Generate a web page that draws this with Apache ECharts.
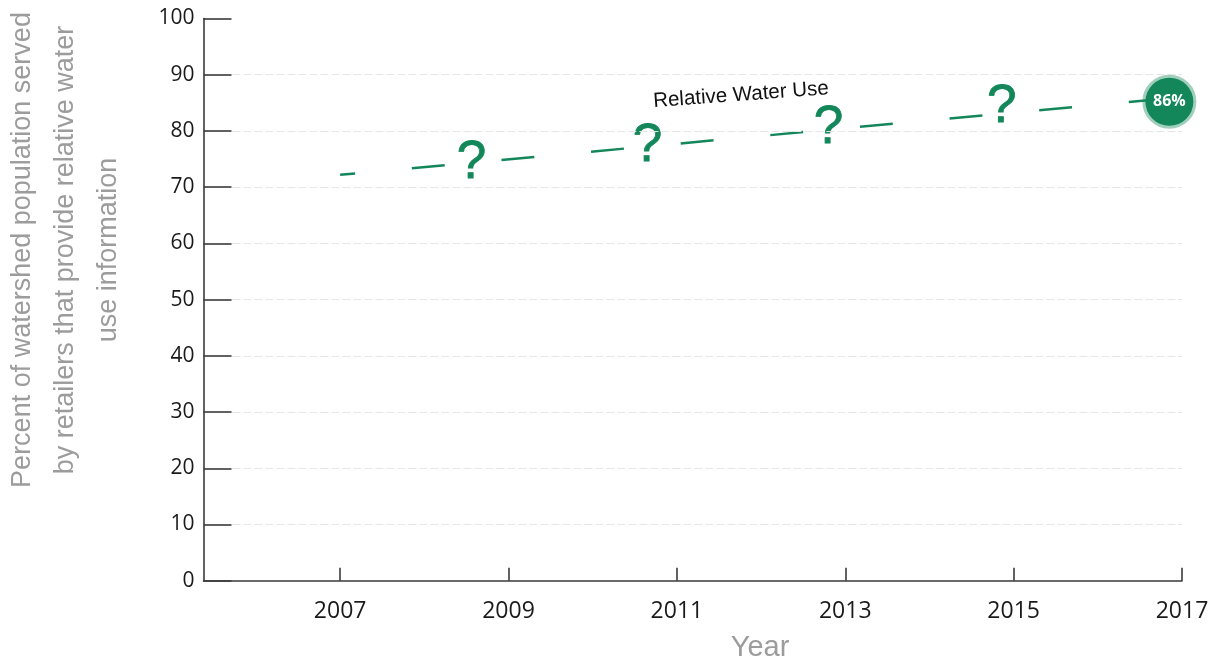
<!DOCTYPE html>
<html>
<head>
<meta charset="utf-8">
<script src="https://cdn.jsdelivr.net/npm/echarts@6/dist/echarts.min.js"></script>
<style>
html,body{margin:0;padding:0;background:#fff;}
#chart{width:1212px;height:664px;}
</style>
</head>
<body>
<div id="chart"></div>
<script>
// ---- data ----
const xTickYears = [2007, 2009, 2011, 2013, 2015, 2017];
const yTicks = [0, 10, 20, 30, 40, 50, 60, 70, 80, 90, 100];
const gridValues = [10, 20, 30, 40, 50, 60, 70, 80, 90];
const trendX = [2007, 2016.85];
const trendY = [72.2, 85.8];
const questionX = [2008.56, 2010.65, 2012.80, 2014.86];
const questionY = [74.2, 77.3, 80.5, 84.2];
const endPointX = [2016.85];
const endPointY = [85.2];
const endPointLabel = ['86%'];
const seriesName = 'Relative Water Use';
const xTitle = 'Year';
const yTitle = 'Percent of watershed population served\nby retailers that provide relative water\nuse information';

const GREEN = '#13875a';
const chart = echarts.init(document.getElementById('chart'), null, {renderer: 'canvas'});

const option = {
  animation: false,
  backgroundColor: '#ffffff',
  grid: {left: 203.5, right: 30, top: 18.5, bottom: 83.3, containLabel: false},
  xAxis: {
    type: 'value',
    min: 2005.377,
    max: 2017,
    splitLine: {show: false},
    axisLine: {show: true, lineStyle: {color: '#3a3a3a', width: 1.6}},
    axisTick: {show: true, inside: true, length: 13, customValues: xTickYears,
      lineStyle: {color: '#3a3a3a', width: 1.6}},
    axisLabel: {customValues: xTickYears, margin: 19, color: '#1a1a1a',
      fontSize: 23, fontFamily: 'Open Sans', formatter: (v) => String(v)}
  },
  yAxis: {
    type: 'value',
    min: 0, max: 100, interval: 10,
    splitLine: {show: false},
    axisLine: {show: true, lineStyle: {color: '#3a3a3a', width: 1.6}},
    axisTick: {show: true, inside: true, length: 28, lineStyle: {color: '#3a3a3a', width: 1.6}},
    axisLabel: {margin: 9, color: '#1a1a1a', fontSize: 21, fontFamily: 'Open Sans'}
  },
  series: [
    {
      type: 'line',
      name: 'grid',
      data: [],
      z: 1,
      silent: true,
      markLine: {
        silent: true,
        symbol: ['none', 'none'],
        label: {show: false},
        lineStyle: {color: '#e6e6e6', width: 1.2, type: [8, 3]},
        data: gridValues.map(v => [{coord: [2005.72, v]}, {coord: [2017, v]}])
      }
    },
    {
      type: 'line',
      name: seriesName,
      data: trendX.map((x, i) => [x, trendY[i]]),
      symbol: 'none',
      z: 3,
      lineStyle: {color: GREEN, width: 2.5, type: [33, 57], dashOffset: 18}
    },
    {
      type: 'scatter',
      name: 'unknown',
      data: questionX.map((x, i) => [x, questionY[i]]),
      symbolSize: 0,
      z: 4,
      itemStyle: {opacity: 1},
      label: {show: true, position: 'inside', formatter: '?', color: GREEN,
        fontSize: 53, fontFamily: 'Liberation Sans', textBorderColor: GREEN, textBorderWidth: 0.8}
    },
    {
      type: 'scatter',
      name: 'latest',
      data: endPointX.map((x, i) => [x, endPointY[i]]),
      symbolSize: 48,
      z: 5,
      itemStyle: {color: GREEN, opacity: 1, borderColor: 'rgba(19,135,90,0.4)', borderWidth: 6},
      label: {show: true, position: 'inside', formatter: (p) => endPointLabel[p.dataIndex],
        color: '#ffffff', fontSize: 16, fontWeight: 'bold', fontFamily: 'Open Sans'}
    }
  ],
  graphic: [
    {
      type: 'text',
      x: 741, y: 95,
      rotation: 4.2 * Math.PI / 180,
      style: {text: seriesName, fill: '#111', fontSize: 20.5, fontFamily: 'Liberation Sans',
        align: 'center', verticalAlign: 'middle'}
    },
    {
      type: 'text',
      x: 760, y: 648,
      style: {text: xTitle, fill: '#9c9c9c', fontSize: 29, fontFamily: 'Liberation Sans',
        align: 'center', verticalAlign: 'middle'}
    },
    {
      type: 'text',
      x: 66, y: 250,
      rotation: Math.PI / 2,
      style: {text: yTitle, fill: '#9c9c9c', fontSize: 27, lineHeight: 43,
        fontFamily: 'Liberation Sans', align: 'center', verticalAlign: 'middle'}
    }
  ]
};
chart.setOption(option);
</script>
</body>
</html>
